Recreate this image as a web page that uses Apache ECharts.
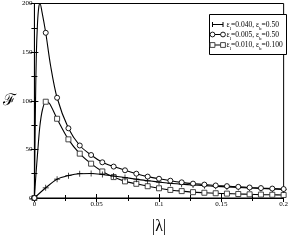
<!DOCTYPE html>
<html>
<head>
<meta charset="utf-8">
<script src="https://cdn.jsdelivr.net/npm/echarts@6/dist/echarts.min.js"></script>
<style>html,body{margin:0;padding:0;background:#fff;}#c{width:291px;height:240px;}</style>
</head>
<body>
<div id="c"></div>
<script>
// |lambda| positions of the plotted markers
const lambdaMarks = [0, 0.0091, 0.0182, 0.0273, 0.0364, 0.0455, 0.0545, 0.0636, 0.0727, 0.0818, 0.0909, 0.1, 0.1091, 0.1182, 0.1273, 0.1364, 0.1455, 0.1545, 0.1636, 0.1727, 0.1818, 0.1909, 0.2];
// eps_l=0.040, eps_b=0.50 (plus)
const fEps040 = [0, 10.5, 19.3, 23.0, 25.0, 25.2, 24.2, 22.6, 21.0, 19.3, 17.7, 16.4, 15.1, 14.2, 13.4, 12.7, 12.0, 11.4, 10.9, 10.3, 9.8, 9.3, 8.8];
// eps_l=0.005, eps_b=0.50 (circle)
const fEps005 = [0, 169.9, 103.1, 71.7, 54.0, 44.2, 36.7, 32.3, 28.5, 25.0, 22.0, 19.8, 17.8, 16.1, 14.8, 13.8, 12.9, 12.2, 11.5, 10.8, 10.2, 9.7, 9.2];
// eps_l=0.010, eps_b=0.100 (square)
const fEps010 = [0, 99.0, 81.5, 60.3, 45.6, 35.3, 27.3, 21.5, 17.1, 14.6, 12.1, 10.0, 8.3, 7.1, 6.0, 5.4, 4.9, 4.5, 4.1, 3.8, 3.5, 3.3, 3.1];
// unmarked curve points near the peaks
const extraLambda005 = [0.0008, 0.0015, 0.0025, 0.0035, 0.0045, 0.006, 0.013];
const extraF005 = [90, 145, 180, 196, 200, 192, 136];
const extraLambda010 = [0.001, 0.0028, 0.0044, 0.0065, 0.012];
const extraF010 = [20, 50, 74, 91, 97.5];
// axis ticks
const xTicks = [0, 0.05, 0.1, 0.15, 0.2];
const yTicks = [0, 50, 100, 150, 200];

function build(mx, my, ex, ey) {
  const pts = mx.map((x, i) => ({ value: [x, my[i]] }));
  (ex || []).forEach((x, i) => pts.push({ value: [x, ey[i]], symbol: 'none' }));
  pts.sort((a, b) => a.value[0] - b.value[0]);
  return pts;
}

const serif = 'Liberation Serif';
const chart = echarts.init(document.getElementById('c'), null, { renderer: 'canvas' });

const axisCommonX = {
  type: 'value', min: xTicks[0], max: xTicks[xTicks.length - 1], interval: xTicks[1] - xTicks[0],
  axisLine: { show: true, lineStyle: { color: '#000', width: 1 } },
  axisTick: { show: true, inside: true, length: 4, lineStyle: { color: '#000' } },
  minorTick: { show: true, splitNumber: 2, length: 3, lineStyle: { color: '#000' } },
  splitLine: { show: false }
};
const axisCommonY = {
  type: 'value', min: yTicks[0], max: yTicks[yTicks.length - 1], interval: yTicks[1] - yTicks[0],
  axisLine: { show: true, lineStyle: { color: '#000', width: 1 } },
  axisTick: { show: true, inside: true, length: 4, lineStyle: { color: '#000' } },
  minorTick: { show: true, splitNumber: 2, length: 3, lineStyle: { color: '#000' } },
  splitLine: { show: false }
};

const lineStyle = { color: '#000', width: 1.1 };
const legendRows = [
  { y: 24.5, sym: 'plus', l: '0.040', b: '0.50' },
  { y: 34.5, sym: 'circle', l: '0.005', b: '0.50' },
  { y: 45, sym: 'rect', l: '0.010', b: '0.100' }
];
const graphics = [{
  type: 'rect', shape: { x: 209.5, y: 14.5, width: 77, height: 40 },
  style: { fill: '#fff', stroke: '#000', lineWidth: 1 }, z: 10
}];
legendRows.forEach(r => {
  graphics.push({ type: 'line', shape: { x1: 212.5, y1: r.y, x2: 223, y2: r.y }, style: { stroke: '#000', lineWidth: 1 }, z: 11 });
  [212.5, 223].forEach(cx => {
    if (r.sym === 'plus') {
      graphics.push({ type: 'line', shape: { x1: cx, y1: r.y - 2.5, x2: cx, y2: r.y + 2.5 }, style: { stroke: '#000', lineWidth: 1 }, z: 11 });
    } else if (r.sym === 'circle') {
      graphics.push({ type: 'circle', shape: { cx: cx, cy: r.y, r: 2.4 }, style: { fill: '#fff', stroke: '#000', lineWidth: 0.9 }, z: 11 });
    } else {
      graphics.push({ type: 'rect', shape: { x: cx - 2.4, y: r.y - 2.4, width: 4.8, height: 4.8 }, style: { fill: '#fff', stroke: '#333', lineWidth: 0.9 }, z: 11 });
    }
  });
  graphics.push({
    type: 'text', x: 226.5, y: r.y, z: 11,
    style: {
      text: '{a|ε}{s|l}{a|=' + r.l + ', ε}{s|b}{a|=' + r.b + '}',
      verticalAlign: 'middle', fill: '#000',
      rich: {
        a: { fontFamily: serif, fontSize: 7.5, fill: '#000', verticalAlign: 'bottom', lineHeight: 9 },
        s: { fontFamily: serif, fontSize: 5, fill: '#000', verticalAlign: 'bottom', lineHeight: 9, padding: [0, 0, -2, 0] }
      }
    }
  });
});

chart.setOption({
  animation: false,
  backgroundColor: '#fff',
  grid: { left: 32, right: 4, top: 2, bottom: 34, show: true, borderColor: '#000', borderWidth: 1, backgroundColor: 'transparent' },
  xAxis: [
    Object.assign({}, axisCommonX, {
      position: 'bottom', name: '|λ|', nameLocation: 'middle', nameGap: 21,
      nameTextStyle: { fontFamily: serif, fontSize: 16, color: '#000' },
      axisLabel: { show: true, fontFamily: serif, fontSize: 7, color: '#000', margin: 3, showMinLabel: true, showMaxLabel: true }
    }),
    Object.assign({}, axisCommonX, { position: 'top', axisLabel: { show: false } })
  ],
  yAxis: [
    Object.assign({}, axisCommonY, {
      position: 'left', name: 'ℱ', nameLocation: 'middle', nameGap: 18, nameRotate: 0,
      nameTextStyle: { fontFamily: 'DejaVu Serif', fontSize: 16, color: '#000' },
      axisLabel: { show: true, fontFamily: serif, fontSize: 7, color: '#000', margin: 2, showMinLabel: true, showMaxLabel: true }
    }),
    Object.assign({}, axisCommonY, { position: 'right', axisLabel: { show: false } })
  ],
  graphic: graphics,
  series: [
    {
      name: 'eps_l=0.040, eps_b=0.50', type: 'line', smooth: 0.3,
      data: build(lambdaMarks, fEps040),
      symbol: 'path://M4.4,0H5.6V4.4H10V5.6H5.6V10H4.4V5.6H0V4.4H4.4Z', symbolSize: 6,
      itemStyle: { color: '#000' }, lineStyle: lineStyle, z: 3
    },
    {
      name: 'eps_l=0.005, eps_b=0.50', type: 'line', smooth: 0.3,
      data: build(lambdaMarks, fEps005, extraLambda005, extraF005),
      symbol: 'circle', symbolSize: 5,
      itemStyle: { color: '#fff', borderColor: '#000', borderWidth: 0.9 }, lineStyle: lineStyle, z: 4
    },
    {
      name: 'eps_l=0.010, eps_b=0.100', type: 'line', smooth: 0.3,
      data: build(lambdaMarks, fEps010, extraLambda010, extraF010),
      symbol: 'rect', symbolSize: 5,
      itemStyle: { color: '#fff', borderColor: '#333', borderWidth: 0.9 }, lineStyle: lineStyle, z: 2
    }
  ]
});
</script>
</body>
</html>
